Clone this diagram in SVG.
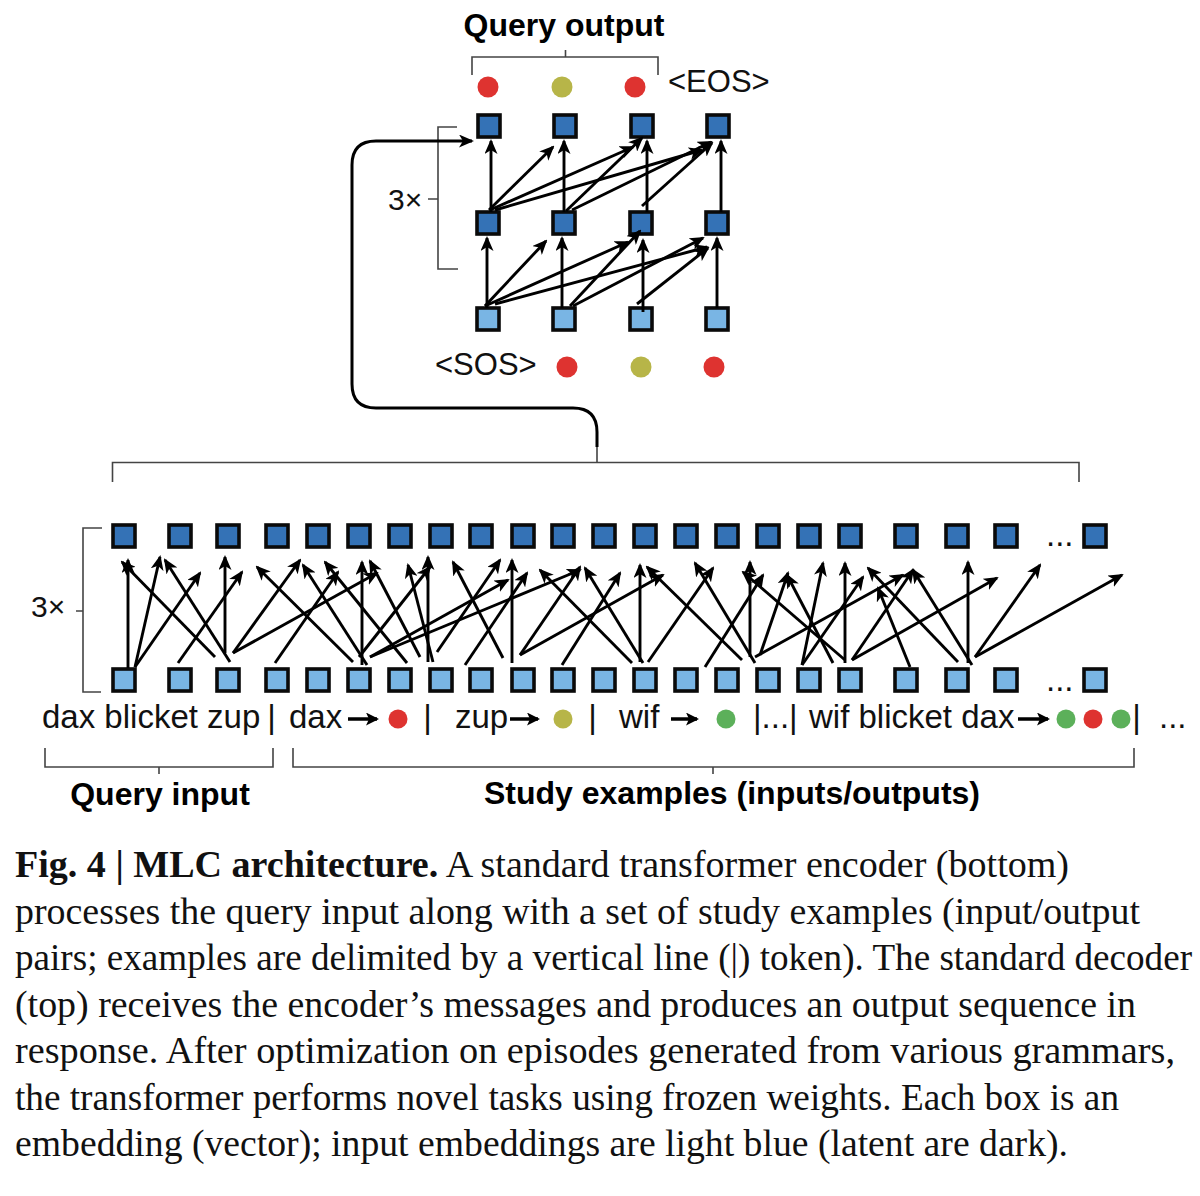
<svg xmlns="http://www.w3.org/2000/svg" width="1200" height="1196" viewBox="0 0 1200 1196">
<style>
.dk{fill:#3472b6;stroke:#0a0a0a;stroke-width:3.6}
.lt{fill:#79b5e4;stroke:#0a0a0a;stroke-width:3.6}
.ar{stroke:#000;stroke-width:2.9;fill:none;marker-end:url(#ah)}
.br{stroke:#444;stroke-width:1.6;fill:none}
.sans{font-family:"Liberation Sans",Arial,sans-serif;fill:#111}
.bold{font-family:"Liberation Sans",Arial,sans-serif;font-weight:bold;fill:#000}
.cap{font-family:"Liberation Serif","Times New Roman",serif;font-size:37px;fill:#111}
.red{fill:#de3330}.olv{fill:#b7b548}.grn{fill:#5cb05a}
</style>
<defs>
<marker id="ah" viewBox="0 0 15 13" refX="13" refY="6.5" markerWidth="15" markerHeight="13" markerUnits="userSpaceOnUse" orient="auto"><path d="M0,0 L15,6.5 L0,13 L4,6.5 z" fill="#000"/></marker>
<marker id="ah2" viewBox="0 0 13 13" refX="11" refY="6.5" markerWidth="13" markerHeight="13" markerUnits="userSpaceOnUse" orient="auto"><path d="M0,0 L13,6.5 L0,13 L3,6.5 z" fill="#000"/></marker>
</defs>

<!-- Decoder -->
<g id="decoder-labels">
<text class="bold" x="564" y="36" font-size="32" text-anchor="middle">Query output</text>
<path class="br" d="M472,75 V57 H658 V75 M565.5,50 V57"/>
<circle class="red" cx="488" cy="87" r="10.5"/>
<circle class="olv" cx="562" cy="87" r="10.5"/>
<circle class="red" cx="635" cy="87" r="10.5"/>
<text class="sans" x="668" y="92" font-size="31">&lt;EOS&gt;</text>
<text class="sans" x="435" y="375" font-size="31">&lt;SOS&gt;</text>
<circle class="red" cx="567" cy="367" r="10.5"/>
<circle class="olv" cx="641" cy="367" r="10.5"/>
<circle class="red" cx="714" cy="367" r="10.5"/>
<path class="br" d="M457,127 H438 V269 H458 M428,199 H438"/>
<text class="sans" x="388" y="210" font-size="30">3×</text>
</g>
<g id="dec-top">
<rect class="dk" x="478" y="115" width="22" height="22"/>
<rect class="dk" x="554" y="115" width="22" height="22"/>
<rect class="dk" x="631" y="115" width="22" height="22"/>
<rect class="dk" x="707" y="115" width="22" height="22"/>
</g>
<g id="dec-mid">
<rect class="dk" x="477" y="212" width="22" height="22"/>
<rect class="dk" x="553" y="212" width="22" height="22"/>
<rect class="dk" x="630" y="212" width="22" height="22"/>
<rect class="dk" x="706" y="212" width="22" height="22"/>
</g>
<g id="dec-bot">
<rect class="lt" x="477" y="308" width="22" height="22"/>
<rect class="lt" x="553" y="308" width="22" height="22"/>
<rect class="lt" x="630" y="308" width="22" height="22"/>
<rect class="lt" x="706" y="308" width="22" height="22"/>
</g>

<!-- Encoder -->
<g id="enc-labels">
<path class="br" d="M112.5,482 V462.5 H1079 V482 M597,447 V462.5"/>
<path class="br" d="M102,528 H83 V692 H101 M76,611 H83"/>
<text class="sans" x="31" y="617" font-size="30">3×</text>
<text class="sans" x="1046" y="546" font-size="33">...</text>
<text class="sans" x="1046" y="691" font-size="33">...</text>
</g>
<g id="enc-top">
<rect class="dk" x="113" y="525" width="22" height="22"/>
<rect class="dk" x="169" y="525" width="22" height="22"/>
<rect class="dk" x="217" y="525" width="22" height="22"/>
<rect class="dk" x="266" y="525" width="22" height="22"/>
<rect class="dk" x="307" y="525" width="22" height="22"/>
<rect class="dk" x="348" y="525" width="22" height="22"/>
<rect class="dk" x="389" y="525" width="22" height="22"/>
<rect class="dk" x="430" y="525" width="22" height="22"/>
<rect class="dk" x="470" y="525" width="22" height="22"/>
<rect class="dk" x="512" y="525" width="22" height="22"/>
<rect class="dk" x="552" y="525" width="22" height="22"/>
<rect class="dk" x="593" y="525" width="22" height="22"/>
<rect class="dk" x="634" y="525" width="22" height="22"/>
<rect class="dk" x="675" y="525" width="22" height="22"/>
<rect class="dk" x="716" y="525" width="22" height="22"/>
<rect class="dk" x="757" y="525" width="22" height="22"/>
<rect class="dk" x="798" y="525" width="22" height="22"/>
<rect class="dk" x="839" y="525" width="22" height="22"/>
<rect class="dk" x="895" y="525" width="22" height="22"/>
<rect class="dk" x="946" y="525" width="22" height="22"/>
<rect class="dk" x="995" y="525" width="22" height="22"/>
<rect class="dk" x="1084" y="525" width="22" height="22"/>
</g>
<g id="enc-bot">
<rect class="lt" x="113" y="669" width="22" height="22"/>
<rect class="lt" x="169" y="669" width="22" height="22"/>
<rect class="lt" x="217" y="669" width="22" height="22"/>
<rect class="lt" x="266" y="669" width="22" height="22"/>
<rect class="lt" x="307" y="669" width="22" height="22"/>
<rect class="lt" x="348" y="669" width="22" height="22"/>
<rect class="lt" x="389" y="669" width="22" height="22"/>
<rect class="lt" x="430" y="669" width="22" height="22"/>
<rect class="lt" x="470" y="669" width="22" height="22"/>
<rect class="lt" x="512" y="669" width="22" height="22"/>
<rect class="lt" x="552" y="669" width="22" height="22"/>
<rect class="lt" x="593" y="669" width="22" height="22"/>
<rect class="lt" x="634" y="669" width="22" height="22"/>
<rect class="lt" x="675" y="669" width="22" height="22"/>
<rect class="lt" x="716" y="669" width="22" height="22"/>
<rect class="lt" x="757" y="669" width="22" height="22"/>
<rect class="lt" x="798" y="669" width="22" height="22"/>
<rect class="lt" x="839" y="669" width="22" height="22"/>
<rect class="lt" x="895" y="669" width="22" height="22"/>
<rect class="lt" x="946" y="669" width="22" height="22"/>
<rect class="lt" x="995" y="669" width="22" height="22"/>
<rect class="lt" x="1084" y="669" width="22" height="22"/>
</g>

<!-- Connectors -->
<g id="connectors">
<path d="M597,447 V432 Q597,408 573,408 H376 Q352,408 352,384 V165 Q352,141 376,141 H472" stroke="#000" stroke-width="3" fill="none" marker-end="url(#ah)"/>
<!-- decoder layer 1 -->
<line class="ar" x1="487" y1="308" x2="487" y2="238"/>
<line class="ar" x1="485" y1="306" x2="546" y2="241"/>
<line class="ar" x1="485" y1="306" x2="628" y2="242"/>
<line class="ar" x1="495" y1="304" x2="707" y2="247"/>
<line class="ar" x1="562" y1="308" x2="562" y2="238"/>
<line class="ar" x1="570" y1="306" x2="640" y2="231"/>
<line class="ar" x1="573" y1="306" x2="703" y2="238"/>
<line class="ar" x1="643" y1="312" x2="643" y2="240"/>
<line class="ar" x1="637" y1="304" x2="708" y2="248"/>
<line class="ar" x1="717" y1="308" x2="717" y2="238"/>
<!-- decoder layer 2 -->
<line class="ar" x1="491" y1="212" x2="491" y2="141"/>
<line class="ar" x1="489" y1="210" x2="553" y2="147"/>
<line class="ar" x1="490" y1="210" x2="633" y2="147"/>
<line class="ar" x1="495" y1="210" x2="702" y2="150"/>
<line class="ar" x1="564" y1="212" x2="564" y2="141"/>
<line class="ar" x1="566" y1="211" x2="642" y2="138"/>
<line class="ar" x1="572" y1="210" x2="711" y2="142"/>
<line class="ar" x1="647" y1="212" x2="647" y2="141"/>
<line class="ar" x1="642" y1="206" x2="712" y2="143"/>
<line class="ar" x1="721" y1="212" x2="721" y2="141"/>
<!-- encoder -->
<line class="ar" x1="128" y1="668" x2="128" y2="560"/>
<line class="ar" x1="135" y1="667" x2="160" y2="557"/>
<line class="ar" x1="135" y1="667" x2="200" y2="573"/>
<line class="ar" x1="215" y1="657" x2="122" y2="562"/>
<line class="ar" x1="178" y1="663" x2="242" y2="572"/>
<line class="ar" x1="230" y1="662" x2="165" y2="560"/>
<line class="ar" x1="225" y1="653" x2="225" y2="557"/>
<line class="ar" x1="233" y1="653" x2="300" y2="560"/>
<line class="ar" x1="233" y1="653" x2="377" y2="573"/>
<line class="ar" x1="275" y1="663" x2="338" y2="572"/>
<line class="ar" x1="353" y1="662" x2="257" y2="567"/>
<line class="ar" x1="367" y1="665" x2="303" y2="565"/>
<line class="ar" x1="362" y1="665" x2="362" y2="562"/>
<line class="ar" x1="370" y1="657" x2="508" y2="580"/>
<line class="ar" x1="370" y1="657" x2="580" y2="570"/>
<line class="ar" x1="407" y1="663" x2="325" y2="562"/>
<line class="ar" x1="420" y1="657" x2="370" y2="561"/>
<line class="ar" x1="359" y1="657" x2="430" y2="567"/>
<line class="ar" x1="428" y1="662" x2="428" y2="557"/>
<line class="ar" x1="433" y1="662" x2="408" y2="565"/>
<line class="ar" x1="503" y1="658" x2="453" y2="562"/>
<line class="ar" x1="437" y1="652" x2="500" y2="560"/>
<line class="ar" x1="512" y1="663" x2="512" y2="560"/>
<line class="ar" x1="465" y1="665" x2="527" y2="573"/>
<line class="ar" x1="632" y1="663" x2="540" y2="570"/>
<line class="ar" x1="520" y1="655" x2="580" y2="567"/>
<line class="ar" x1="643" y1="663" x2="585" y2="568"/>
<line class="ar" x1="562" y1="665" x2="620" y2="573"/>
<line class="ar" x1="640" y1="662" x2="640" y2="565"/>
<line class="ar" x1="520" y1="655" x2="663" y2="575"/>
<line class="ar" x1="742" y1="660" x2="647" y2="567"/>
<line class="ar" x1="755" y1="663" x2="695" y2="563"/>
<line class="ar" x1="648" y1="662" x2="713" y2="568"/>
<line class="ar" x1="750" y1="657" x2="750" y2="562"/>
<line class="ar" x1="705" y1="667" x2="763" y2="575"/>
<line class="ar" x1="845" y1="660" x2="743" y2="572"/>
<line class="ar" x1="760" y1="655" x2="788" y2="573"/>
<line class="ar" x1="833" y1="663" x2="787" y2="575"/>
<line class="ar" x1="802" y1="665" x2="823" y2="563"/>
<line class="ar" x1="845" y1="663" x2="845" y2="563"/>
<line class="ar" x1="802" y1="665" x2="863" y2="577"/>
<line class="ar" x1="958" y1="662" x2="868" y2="568"/>
<line class="ar" x1="910" y1="667" x2="878" y2="588"/>
<line class="ar" x1="755" y1="657" x2="903" y2="575"/>
<line class="ar" x1="852" y1="660" x2="913" y2="570"/>
<line class="ar" x1="972" y1="665" x2="913" y2="570"/>
<line class="ar" x1="968" y1="663" x2="968" y2="562"/>
<line class="ar" x1="852" y1="660" x2="997" y2="578"/>
<line class="ar" x1="975" y1="657" x2="1040" y2="565"/>
<line class="ar" x1="975" y1="657" x2="1122" y2="575"/>
</g>

<!-- Token row -->
<g id="tokens">
<text class="sans" font-size="33" y="728">
<tspan x="42">dax blicket zup</tspan>
<tspan x="276" text-anchor="middle">|</tspan>
<tspan x="289">dax</tspan>
<tspan x="432" text-anchor="middle">|</tspan>
<tspan x="455">zup</tspan>
<tspan x="597" text-anchor="middle">|</tspan>
<tspan x="619">wif</tspan>
<tspan x="753">|...|</tspan>
<tspan x="809">wif blicket dax</tspan>
<tspan x="1141" text-anchor="middle">|</tspan>
<tspan x="1159">...</tspan>
</text>
<line x1="348" y1="719" x2="377" y2="719" stroke="#000" stroke-width="3.5" marker-end="url(#ah2)"/>
<line x1="510" y1="719" x2="538" y2="719" stroke="#000" stroke-width="3.5" marker-end="url(#ah2)"/>
<line x1="671" y1="719" x2="697" y2="719" stroke="#000" stroke-width="3.5" marker-end="url(#ah2)"/>
<line x1="1018" y1="719" x2="1048" y2="719" stroke="#000" stroke-width="3.5" marker-end="url(#ah2)"/>
<circle class="red" cx="398" cy="719" r="9.5"/>
<circle class="olv" cx="563" cy="719" r="9.5"/>
<circle class="grn" cx="726" cy="719" r="9.5"/>
<circle class="grn" cx="1066" cy="719" r="9.5"/>
<circle class="red" cx="1093" cy="719" r="9.5"/>
<circle class="grn" cx="1121" cy="719" r="9.5"/>
</g>

<g id="bottom-labels">
<path class="br" d="M45,748 V767 H273 V748 M159,767 V774"/>
<path class="br" d="M293,748 V767 H1134 V748 M713,767 V774"/>
<text class="bold" x="160" y="805" font-size="32" text-anchor="middle">Query input</text>
<text class="bold" x="732" y="804" font-size="32" text-anchor="middle">Study examples (inputs/outputs)</text>
</g>

<g id="caption">
<text class="cap" x="15" y="877" textLength="1054" lengthAdjust="spacingAndGlyphs"><tspan font-weight="bold">Fig. 4 | MLC architecture.</tspan> A standard transformer encoder (bottom)</text>
<text class="cap" x="15" y="923.5" textLength="1125" lengthAdjust="spacingAndGlyphs">processes the query input along with a set of study examples (input/output</text>
<text class="cap" x="15" y="970" textLength="1177" lengthAdjust="spacingAndGlyphs">pairs; examples are delimited by a vertical line (|) token). The standard decoder</text>
<text class="cap" x="15" y="1016.5" textLength="1121" lengthAdjust="spacingAndGlyphs">(top) receives the encoder’s messages and produces an output sequence in</text>
<text class="cap" x="15" y="1063" textLength="1160" lengthAdjust="spacingAndGlyphs">response. After optimization on episodes generated from various grammars,</text>
<text class="cap" x="15" y="1109.5" textLength="1104" lengthAdjust="spacingAndGlyphs">the transformer performs novel tasks using frozen weights. Each box is an</text>
<text class="cap" x="15" y="1156" textLength="1053" lengthAdjust="spacingAndGlyphs">embedding (vector); input embeddings are light blue (latent are dark).</text>
</g>
</svg>
